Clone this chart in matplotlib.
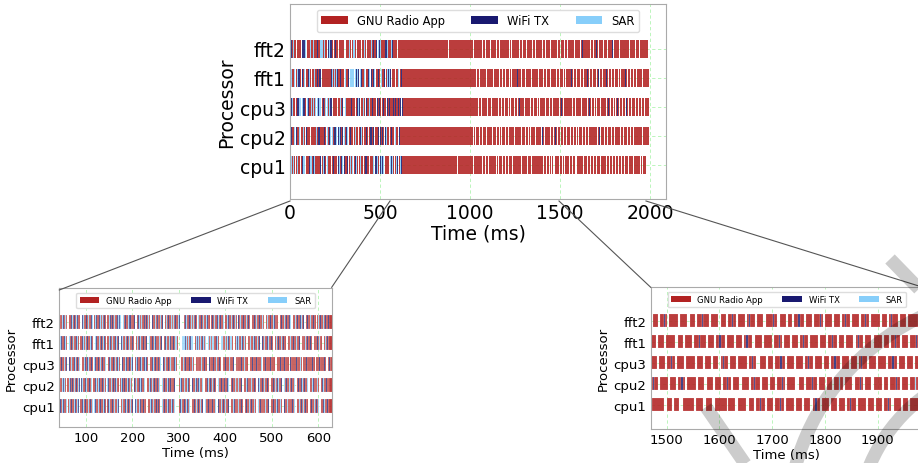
import re
import matplotlib
matplotlib.use("Agg")
import matplotlib.pyplot as plt
from matplotlib.patches import Patch, Arc
from matplotlib.lines import Line2D

W, H = 918, 464
SLOT = 2.0      # ms per character / count unit
T0 = 6.0        # first task start (ms)

PROCS = ["cpu1", "cpu2", "cpu3", "fft1", "fft2"]
APPS = ["r", "b", "s"]
APP_NAMES = ["GNU Radio App", "WiFi TX", "SAR"]
APP_COLORS = ["#B22222", "#191970", "#87CEFA"]

# schedule per processor: r = GNU Radio App, b = WiFi TX, s = SAR, . = idle
# letter + optional count (in 2 ms slots)
FFT2 = (
    "rbsrrbsrbrrsrb..srbrrsbrsrr..rrbsrbrsbrrs..bsrrbrsrrbs..rsbrrbsrsrbr.."
    "rrsbrbrsrrbsrbs..srbrrsbbrsrrb..rbsrsrrbsrbrsr..brrsrbsrrsrb..rsrbrrsbrsrbrrsb...."
    "rrbsrrbrsrsrbr..srrbrsrrsbrr..rbrsrrbsrbrrs..rrsbrrsrbrsr..brsrrbrrsrbrs.."
    "rrbrsrrbrrsbr..rsrrbrrsbrrsr..rbrrsrbrrbrs..rrsrbrrbsrrb..rbrrsrrbrr..rsrbrrsrbrrb"
    "r30 r28 . r36 r34 . r26 r33"
    "r8 .2 r6 .2 r9 .2 r5 .2 r7 .2 r10 .2 r6 .2 r8 .2 r5 .2 r9 .2 r6 .2"
    "r7 .2 r5 .2 r4 b1 r5 .2 r8 .2 r6 .2 r9 .2 r5 .2 r7 .2 r6 .2 r4 b1 r4 .2 r8 .2"
    "r5 .2 r6 .2 r4 .3 r10 .2 r5 .2 r3 b1 r2 .2 r9 .2 r6 .3 r5 .2 r4 b1 r6 .2 r7 .2 r5 .2"
    "r4 b1 r3 .2 r6 .2 r2 b1 r5 .2 r5 .3 r7 b1 r3 .2 r6 .2 r4 .2 r3 b2 r4 .2 r6 .2 r5 b1 r2 .2 r7 .2"
    "r5 .2 r3 b1 r4 .2 r6 .2 r4 b1 r3 .2 r8 .2 r5 .2 r2 b1 r5 .2 r6 .2 r9 .2 r5"
)
FFT1 = (
    "rsbrrsrbrsbr..brrsrsbrrbsrr..srbrsrrbsr..rrbsrsrbrrsbrs..sbrrsrbrsbr.."
    "rrsbrsrrbsrbr..bsrrsrbrsrrsbr..rsrbsrrbrsrb..srrbrsbrrsrsrb..rbsrrsbrsrbrssr...."
    "sssrbsrsrbss..rsbssrsrbsrs..srsbrssrrbsr..ssrbrsrsbrssr..rsrbsrrsbrsr.."
    "rrbsrrsbrrsrb..brrsrrbsrrbr..rsrrbrrsrbrr..rrbsrrbrrsrrb..rbrrsrbrrbr..rrsrbrsrr..rsrbrr"
    "r24 . r40 r30 . r44 r22 . r26"
    "r6 .2 r9 .2 r5 .2 r8 .2 r7 .2 r6 .2 r10 .2 r5 .2 r8 .2 r6 .2 r7 .2"
    "r9 .2 r4 .2 r7 .2 r5 b1 r3 .2 r6 .2 r8 .2 r5 .2 r7 .2 r6 .2 r10 .2 r5 .2"
    "r6 .2 r5 .3 r8 .2 r4 b1 r3 .2 r6 .2 r5 .2 r9 .3 r4 .2 r7 .2 r5 b1 r5 .2 r6 .2"
    "r3 b1 r4 .2 r7 .2 r5 .2 r2 b2 r4 .3 r6 .2 r8 .2 r4 b1 r2 .2 r6 .2 r5 .2 r3 b1 r4 .2 r7 .2"
    "r6 .2 r4 b1 r3 .2 r5 .2 r7 .2 r2 b1 r4 .2 r6 .2 r8 .2 r5 .2 r3 b1 r4 .2 r6 .2 r5 b1 r4 .2 r3"
)
CPU3 = (
    "rbrsbrrsbrbr..srrbsrbrrsrbs..brsrrbsrbrsr..rrsbrbsrrbr..sbrrbrsrbrrsb.."
    "rbsrrbrsrbsrr..brrsbrrbrsrb..rsbrrbsrrbrsbr..rrbsrbrrsbrs..brsrrbrsrbrrbsr...."
    "rrsrrbrrrbrrsr..rrbrrrsrrbrr..brrrrbrrsrrbr..rrrbrrrsrrrb..rbrrrrbrrsrrr.."
    "rrrbrrrbrrrrs..rrbrrrrbrrrr..rrrrbrrrbrrrr..brrrrrbrrrsr..rrrbrrrrrbrr..rrrbrrrrbr..rrbr"
    "r36 r42 r28 r46 r37"
    "r10 .2 r7 .2 r6 .2 r9 .2 r5 .2 r8 .2 r6 .2 r10 .2 r7 .2 r6 .2"
    "r8 .2 r5 .2 r9 .2 r6 .2 r4 b1 r3 .2 r7 .2 r5 .2 r8 .2 r6 .2 r9 .2 r5 .2"
    "r7 .2 r5 .2 r3 b1 r5 .2 r6 .3 r10 .2 r5 .2 r4 b1 r3 .2 r6 .2 r9 .2 r5 .2 r6 .2"
    "r5 .2 r2 b1 r4 .2 r6 .2 r8 .2 r3 b1 r3 .3 r6 .2 r5 .2 r4 b2 r3 .2 r7 .2 r6 .2 r3 b1 r4 .2"
    "r6 .2 r5 .2 r3 b1 r4 .2 r7 .2 r5 .2 r2 b1 r5 .2 r6 .2 r8 .2 r4 b1 r3 .2 r6 .2 r5 .2 r12"
)
CPU2 = (
    "sbrrsbrbrsrr..rbsrbrrsbsr..rrsbrbrsrbrsb..bsrrbsrrbrs..rrbsrsbrrbrsr.."
    "sbrrsrbrbsrr..rsbrbrrsbrsrb..brsrrbsbrrsr..rrsbrsrbrrbsrs..srbrrsbrbrsrrb...."
    "rsbrrsbrrsbr..brrsbrrbsrrs..rrbsrbrrsrbr..srrbrrsbrrbs..rbrrsrbrsrrb.."
    "rrsbrrbrsrrbr..bsrrbrrsrrbr..rrbrsrrbsrrb..srbrrsrrbrrs..rbrrbsrrbrrs..rrsbrrbrsr..rbsrrbrrs"
    "r28 r34 . r40 r37 . r26 r22"
    "r7 .2 r5 .2 r8 .2 r6 .2 r10 .2 r5 .2 r7 .2 r9 .2 r6 .2 r5 .2 r8 .2"
    "r6 .2 r9 .2 r5 .2 r7 .2 r4 b1 r4 .2 r8 .2 r6 .2 r5 .2 r10 .2 r6 .2 r7 .2"
    "r2 b1 r3 .2 r6 .2 r8 .3 r5 .2 r4 b1 r4 .2 r7 .2 r6 .2 r3 b1 r2 .2 r9 .2 r5 .3 r6 .2"
    "r5 .2 r4 b1 r3 .2 r6 .2 r7 .2 r3 b1 r4 .2 r6 .2 r5 .2 r4 b1 r2 .2 r8 .3 r5 .2 r6 b1 r3 .2"
    "r6 .2 r5 .2 r4 s1 r3 .2 r7 .2 r5 b1 r2 .2 r6 .2 r8 .2 r4 .2 r5 b1 r3 .2 r6 .2 r4 s1 r2 .2 r7"
)
CPU1 = (
    "rsbrrbsrbrsr..brrsrbrsbrrs..rsrbrrsbrsb..rrbsrbrrsrbrs..sbrrsrbrrsbr.."
    "rbsrrbrsrrsbr..rsrrbsrbrsrrb..bsrrsbrrbrsr..rrsbrsrrbrsbr..srbrrsbrrsrbrs...."
    "rbsrrbrrsbrs..rrbrsrrbrsrb..srrbrrsrbrrs..brrsrbrrsrrb..rrsbrrbrsrrbr.."
    "rbrrsrrbrrsr..srbrrbrrsrrb..rrbrrsrbrrsr..brrsrrbrrbrs..rrsrbrrsrbrr..rbrrsrrbrs..rrbsrrbr"
    "r32 r40 . r35 r46 . r34"
    "r8 .2 r6 .2 r9 .2 r5 .2 r7 .2 r6 .2 r10 .2 r7 .2 r5 .2 r8 .2 r6 .2"
    "r7 .2 r9 .2 r5 .2 r6 .2 r8 .2 r5 .2 r7 .2 r4 b1 r4 .2 r6 .2 r9 .2 r6 .2"
    "r5 .2 r7 .2 r5 .2 r4 .2 r4 .5 r11 .3 r5 .2 r5 .3 r11 .2 r6 .3 r6 .3"
    "r11 .1 r7 .3 r7 .3 r5 .2 r3 b1 r4 .2 r6 .2 r4 b1 r3 .2 r8 .2 r5 .2 r6 .3 r2 b1 r3 .2"
    "r7 .2 r5 .2 r6 .2 r3 b1 r4 .2 r8 .2 r5 .2 r6 .2 r4 b1 r2 .2 r7 .2 r5 .2 r9"
)
SCHEDULE = [CPU1, CPU2, CPU3, FFT1, FFT2]


def parse(code):
    out = {k: [] for k in APPS}
    t = T0
    for ch, n in re.findall(r"([rbs.])(\d*)", code):
        d = (int(n) if n else 1) * SLOT
        if ch != ".":
            out[ch].append((t, d))
        t += d
    return out


tasks = [parse(c) for c in SCHEDULE]

plt.rcParams.update({"font.family": "DejaVu Sans"})
fig = plt.figure(figsize=(W / 100, H / 100), dpi=100)
fig.patch.set_facecolor("white")


def px_axes(l, t, r, b):
    return fig.add_axes([l / W, 1 - b / H, (r - l) / W, (b - t) / H])


ax_main = px_axes(290, 5, 666, 200)
ax_l = px_axes(59.3, 289.3, 331.7, 428.3)
ax_r = px_axes(650.7, 288.3, 923.1, 430)

panels = [
    (ax_main, (0, 2089), (-1.17, 5.55), 0.62, 0.0, 13.5, 8.3, range(0, 2001, 500)),
    (ax_l, (42.5, 628.8), (-1.0, 5.6), 0.68, 0.12, 9.5, 6.1, range(100, 601, 100)),
    (ax_r, (1469.7, 1986), (-1.16, 5.59), 0.64, 0.12, 9.5, 6.1, range(1500, 1901, 100)),
]

for ax, xl, yl, bh, elw, fs, lfs, xt in panels:
    for i, row in enumerate(tasks):
        for k, col in zip(APPS, APP_COLORS):
            if row[k]:
                ax.broken_barh(row[k], (i - bh / 2, bh), facecolors=col,
                               edgecolor="white", linewidth=elw, alpha=0.88, zorder=2)
    ax.set_xlim(*xl)
    ax.set_ylim(*yl)
    ax.set_xticks(list(xt))
    ax.set_yticks(range(len(PROCS)))
    ax.set_yticklabels(PROCS)
    ax.tick_params(length=0, labelsize=fs, pad=3)
    ax.set_xlabel("Time (ms)", fontsize=fs, labelpad=1)
    ax.set_ylabel("Processor", fontsize=fs, labelpad=3)
    ax.grid(True, color="#90ee90", ls=(0, (4, 3)), lw=0.6, alpha=0.7, zorder=1)
    ax.set_axisbelow(True)
    for s in ax.spines.values():
        s.set_color("#aaaaaa")
        s.set_linewidth(0.8)
    handles = [Patch(facecolor=c, label=n) for n, c in zip(APP_NAMES, APP_COLORS)]
    ax.legend(handles=handles, loc="upper center", ncol=3, fontsize=lfs,
              handlelength=2.3, columnspacing=2.3, frameon=True,
              edgecolor="#dddddd", framealpha=1.0)

# zoom connector lines
for (x1, y1), (x2, y2) in [((290, 202), (59.3, 291)), ((390, 202), (331.7, 288.3)),
                           ((559, 202), (650.7, 288.3)), ((646, 202), (923, 288.3))]:
    fig.add_artist(Line2D([x1 / W, x2 / W], [1 - y1 / H, 1 - y2 / H],
                          transform=fig.transFigure, color="#555555", lw=0.8))

# faint watermark strokes in the lower-right corner (mostly cut off)
WM = dict(color="black", alpha=0.2, lw=9.5, solid_capstyle="butt")
cx, cy = 1022 / W, 1 - 530 / H
for r in (235, 165):
    fig.add_artist(Arc((cx, cy), 2 * r / W, 2 * r / H, theta1=95, theta2=200,
                       transform=fig.transFigure, color="black", alpha=0.2, lw=9.5))
for (x1, y1), (x2, y2) in [((706, 408), (750, 472)), ((890, 260), (925, 296))]:
    fig.add_artist(Line2D([x1 / W, x2 / W], [1 - y1 / H, 1 - y2 / H],
                          transform=fig.transFigure, **WM))

fig.savefig("out.png", dpi=100)
